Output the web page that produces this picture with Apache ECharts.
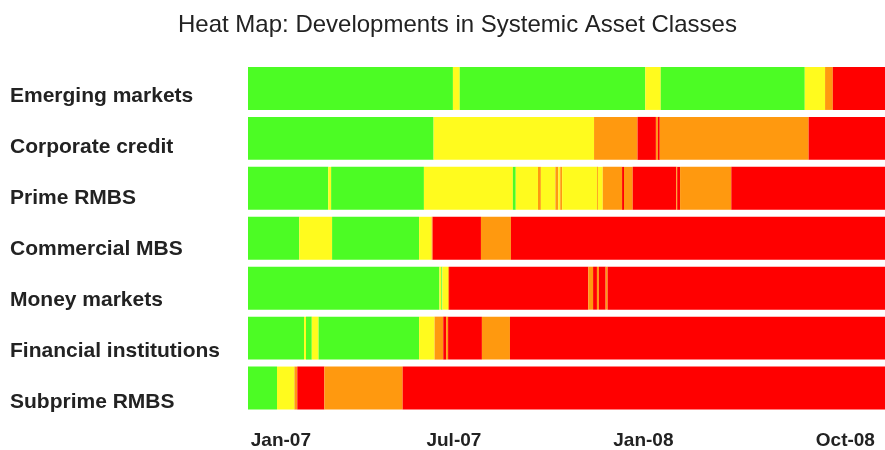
<!DOCTYPE html>
<html>
<head>
<meta charset="utf-8">
<script src="https://cdn.jsdelivr.net/npm/echarts@6/dist/echarts.min.js"></script>
<style>html,body{margin:0;padding:0;background:#fff}#c{width:885px;height:450px}</style>
</head>
<body>
<div id="c"></div>
<script>
// Categories (top to bottom)
const categories = ['Emerging markets','Corporate credit','Prime RMBS','Commercial MBS','Money markets','Financial institutions','Subprime RMBS'];
// x values: days relative to 1 Jan 2007 (approx.). Level: 0 green, 1 yellow, 2 orange, 3 red
const emergingMarkets = [[-34,178,0],[178,185,1],[185,377,0],[377,393,1],[393,542,0],[542,563,1],[563,571,2],[571,625,3]];
const corporateCredit = [[-34,158,0],[158,324,1],[324,369,2],[369,388,3],[388,390,2],[390,392,3],[392,546,2],[546,625,3]];
const primeRMBS = [[-34,49,0],[49,52,1],[52,148,0],[148,240,1],[240,243,0],[243,266,1],[266,269,2],[269,284,1],[284,287,2],[287,289,1],[289,291,2],[291,327,1],[327,328,2],[328,333,1],[333,353,2],[353,355,3],[355,364,2],[364,409,3],[409,410,2],[410,413,3],[413,466,2],[466,625,3]];
const commercialMBS = [[-34,19,0],[19,53,1],[53,143,0],[143,156,1],[156,157,2],[157,207,3],[207,238,2],[238,625,3]];
const moneyMarkets = [[-34,164,0],[164,166,1],[166,167,0],[167,173,1],[173,174,2],[174,318,3],[318,323,2],[323,327,3],[327,329,2],[329,336,3],[336,338,2],[338,625,3]];
const financialInstitutions = [[-34,24,0],[24,26,1],[26,32,0],[32,39,1],[39,143,0],[143,159,1],[159,168,2],[168,171,3],[171,173,2],[173,208,3],[208,237,2],[237,625,3]];
const subprimeRMBS = [[-34,-4,0],[-4,14,1],[14,17,2],[17,45,3],[45,126,2],[126,625,3]];
// Tick labels and their positions (days)
const tickLabels = ['Jan-07','Jul-07','Jan-08','Oct-08'];
const tickValues = [0, 179, 375, 584];
const levelColors = ['#4cfc24','#fffb1e','#ff990f','#ff0000'];

const rows = [emergingMarkets, corporateCredit, primeRMBS, commercialMBS, moneyMarkets, financialInstitutions, subprimeRMBS];
const data = [];
rows.forEach((segs, r) => segs.forEach(s => data.push({value:[s[0], s[1], r, s[2]], itemStyle:{color:levelColors[s[2]]}})));

const FONT = "'Liberation Sans', Arial, Helvetica, sans-serif";
const chart = echarts.init(document.getElementById('c'), null, {renderer:'canvas'});
chart.setOption({
  animation:false,
  title:{text:'Heat Map: Developments in Systemic Asset Classes', left:173, top:8,
    textStyle:{fontFamily:FONT, fontSize:24, fontWeight:'normal', color:'#222'}},
  grid:[{left:248, right:0, top:63.5, height:350},
        {left:248, width:1, top:70.5, height:357}],
  xAxis:[{type:'value', gridIndex:0, min:-34, max:625, splitLine:{show:false}, axisLine:{show:false}, axisTick:{show:false},
    axisLabel:{customValues:tickValues, margin:18, fontFamily:FONT, fontSize:19, fontWeight:'bold', color:'#222',
      formatter:(v)=>{const i=tickValues.indexOf(v);return i>=0?tickLabels[i]:'';}}},
    {type:'value', gridIndex:1, show:false}],
  yAxis:[{type:'category', gridIndex:0, data:categories, inverse:true, axisLine:{show:false}, axisTick:{show:false}, splitLine:{show:false},
    axisLabel:{show:false}},
    {type:'category', gridIndex:1, data:categories, inverse:true, axisLine:{show:false}, axisTick:{show:false}, splitLine:{show:false},
    axisLabel:{align:'left', margin:238, fontFamily:FONT, fontSize:21, fontWeight:'bold', color:'#222'}}],
  series:[{type:'custom', xAxisIndex:0, yAxisIndex:0, encode:{x:[0,1], y:2}, data:data,
    renderItem:(params, api)=>{
      const r = api.value(2);
      const p0 = api.coord([api.value(0), r]);
      const p1 = api.coord([api.value(1), r]);
      const h = api.size([0,1])[1]*0.86;
      return {type:'rect', shape:{x:p0[0], y:p0[1]-h/2, width:p1[0]-p0[0], height:h},
        style:{fill:api.visual('color')}};
    }}]
});
</script>
</body>
</html>
